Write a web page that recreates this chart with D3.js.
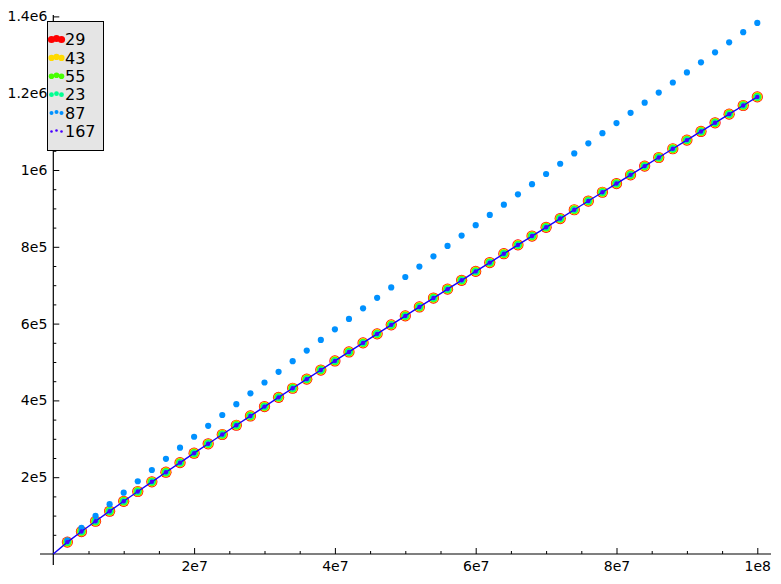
<!DOCTYPE html>
<html>
<head>
<meta charset="utf-8">
<script src="https://cdn.jsdelivr.net/npm/d3@7"></script>
<style>
  body { margin: 0; background: #fff; }
  text { font-family: "DejaVu Sans", sans-serif; }
</style>
</head>
<body>
<div id="chart"></div>
<script>
// x positions (same for every series)
const xs = [2e6, 4e6, 6e6, 8e6, 1e7, 1.2e7, 1.4e7, 1.6e7, 1.8e7, 2e7,
    2.2e7, 2.4e7, 2.6e7, 2.8e7, 3e7, 3.2e7, 3.4e7, 3.6e7, 3.8e7, 4e7,
    4.2e7, 4.4e7, 4.6e7, 4.8e7, 5e7, 5.2e7, 5.4e7, 5.6e7, 5.8e7, 6e7,
    6.2e7, 6.4e7, 6.6e7, 6.8e7, 7e7, 7.2e7, 7.4e7, 7.6e7, 7.8e7, 8e7,
    8.2e7, 8.4e7, 8.6e7, 8.8e7, 9e7, 9.2e7, 9.4e7, 9.6e7, 9.8e7, 1e8];

// the five series that sit on top of each other
const lowerSeries = [31000, 58500, 85300, 111500, 137300, 162800, 188000, 213000, 237900, 262500,
    287000, 311200, 335300, 359500, 383900, 407900, 431600, 455400, 479100, 502800,
    526200, 549800, 573300, 596700, 620100, 643400, 666500, 689700, 712800, 736000,
    758900, 782000, 805000, 828000, 850800, 873600, 896500, 919200, 942000, 964700,
    987400, 1010100, 1032600, 1055400, 1077900, 1100400, 1122900, 1145500, 1168000, 1190400];

// the 87 series, the upper row of dots
const series87 = [35800, 68100, 99200, 129800, 159800, 189400, 218800, 247900, 276800, 305400,
    333900, 362000, 390100, 418300, 446600, 474500, 502200, 529800, 557400, 585000,
    612300, 639700, 667100, 694200, 721400, 748600, 775300, 802200, 829300, 856300,
    883000, 909800, 936600, 963200, 989600, 1016300, 1043100, 1069400, 1095900, 1122300,
    1148800, 1175200, 1201500, 1227800, 1254100, 1280300, 1306500, 1332500, 1358900, 1383000];

const labels = ["29", "43", "55", "23", "87", "167"];
const colors = ["#ff0000", "#ffda00", "#48ff00", "#00ff91", "#0091ff", "#4800ff"];
const sizes = [5.6, 4.9, 4.2, 3.5, 3.1, 2.2];
const seriesValues = [lowerSeries, lowerSeries, lowerSeries, lowerSeries, series87, lowerSeries];

const xTicks = [2e7, 4e7, 6e7, 8e7, 1e8];
const xTickLabels = ["2e7", "4e7", "6e7", "8e7", "1e8"];
const yTicks = [2e5, 4e5, 6e5, 8e5, 1e6, 1.2e6, 1.4e6];
const yTickLabels = ["2e5", "4e5", "6e5", "8e5", "1e6", "1.2e6", "1.4e6"];

const width = 781, height = 584;

const svg = d3.select("#chart")
    .append("svg")
    .attr("width", width)
    .attr("height", height);

const x = d3.scaleLinear().domain([0, 1e8]).range([53.3, 757.3]);
const y = d3.scaleLinear().domain([0, 1.4e6]).range([554, 16.4]);

// axis lines cross at the origin
svg.append("line")
    .attr("x1", 40).attr("x2", 771)
    .attr("y1", y(0)).attr("y2", y(0))
    .attr("stroke", "#000").attr("stroke-width", 1.2);
svg.append("line")
    .attr("x1", x(0)).attr("x2", x(0))
    .attr("y1", 15).attr("y2", 565)
    .attr("stroke", "#000").attr("stroke-width", 1.2);

// minor ticks
const xMinor = d3.range(5e6, 1.01e8, 5e6).filter(v => v % 2e7 !== 0);
const yMinor = d3.range(5e4, 1.41e6, 5e4).filter(v => Math.round(v / 5e4) % 4 !== 0);

svg.append("g")
    .attr("transform", `translate(0, ${y(0)})`)
    .call(d3.axisBottom(x).tickValues(xMinor).tickSize(-3).tickFormat(""))
    .call(g => g.select(".domain").remove());
svg.append("g")
    .attr("transform", `translate(${x(0)}, 0)`)
    .call(d3.axisLeft(y).tickValues(yMinor).tickSize(-3).tickFormat(""))
    .call(g => g.select(".domain").remove());

// major ticks with labels
svg.append("g")
    .attr("transform", `translate(0, ${y(0)})`)
    .call(d3.axisBottom(x).tickValues(xTicks).tickSize(-6).tickPadding(7)
        .tickFormat((d, i) => xTickLabels[i]))
    .call(g => g.select(".domain").remove())
    .selectAll("text")
    .attr("font-size", "14px")
    .attr("font-family", "DejaVu Sans")
    .attr("fill", "#000");
svg.append("g")
    .attr("transform", `translate(${x(0)}, 0)`)
    .call(d3.axisLeft(y).tickValues(yTicks).tickSize(-6).tickPadding(6)
        .tickFormat((d, i) => yTickLabels[i]))
    .call(g => g.select(".domain").remove())
    .selectAll("text")
    .attr("font-size", "14px")
    .attr("font-family", "DejaVu Sans")
    .attr("fill", "#000");

// points, biggest first so they stack into rings
const plot = svg.append("g");
[0, 1, 2, 3].forEach(i => {
    plot.append("g")
        .selectAll("circle")
        .data(seriesValues[i])
        .join("circle")
        .attr("cx", (d, j) => x(xs[j]))
        .attr("cy", d => y(d))
        .attr("r", sizes[i])
        .attr("fill", colors[i]);
});

// 87
plot.append("g")
    .selectAll("circle")
    .data(series87)
    .join("circle")
    .attr("cx", (d, j) => x(xs[j]))
    .attr("cy", d => y(d))
    .attr("r", sizes[4])
    .attr("fill", colors[4]);

// 167 is joined from the origin
const line167 = [[0, 0]].concat(xs.map((v, j) => [v, lowerSeries[j]]));
plot.append("path")
    .datum(line167)
    .attr("d", d3.line().x(d => x(d[0])).y(d => y(d[1])))
    .attr("fill", "none")
    .attr("stroke", "#1400ff")
    .attr("stroke-width", 1.4);
plot.append("g")
    .selectAll("circle")
    .data(seriesValues[5])
    .join("circle")
    .attr("cx", (d, j) => x(xs[j]))
    .attr("cy", d => y(d))
    .attr("r", sizes[5])
    .attr("fill", colors[5]);

// legend
const legend = svg.append("g");
legend.append("rect")
    .attr("x", 47.5).attr("y", 21.5)
    .attr("width", 56).attr("height", 129)
    .attr("fill", "#e5e5e5")
    .attr("stroke", "#000");

const legendSizes = [3.6, 3.1, 2.8, 2.4, 2.0, 1.3];
labels.forEach((lab, i) => {
    const cy = 39.5 + i * 18.4;
    [51.5, 56.5, 61.5].forEach((cx, k) => {
        legend.append("circle")
            .attr("cx", cx)
            .attr("cy", cy + (k === 1 ? -1 : 0))
            .attr("r", legendSizes[i])
            .attr("fill", colors[i]);
    });
    legend.append("text")
        .attr("x", 65)
        .attr("y", cy)
        .attr("dy", "0.36em")
        .attr("font-size", "16px")
        .attr("fill", "#000")
        .text(lab);
});
</script>
</body>
</html>
